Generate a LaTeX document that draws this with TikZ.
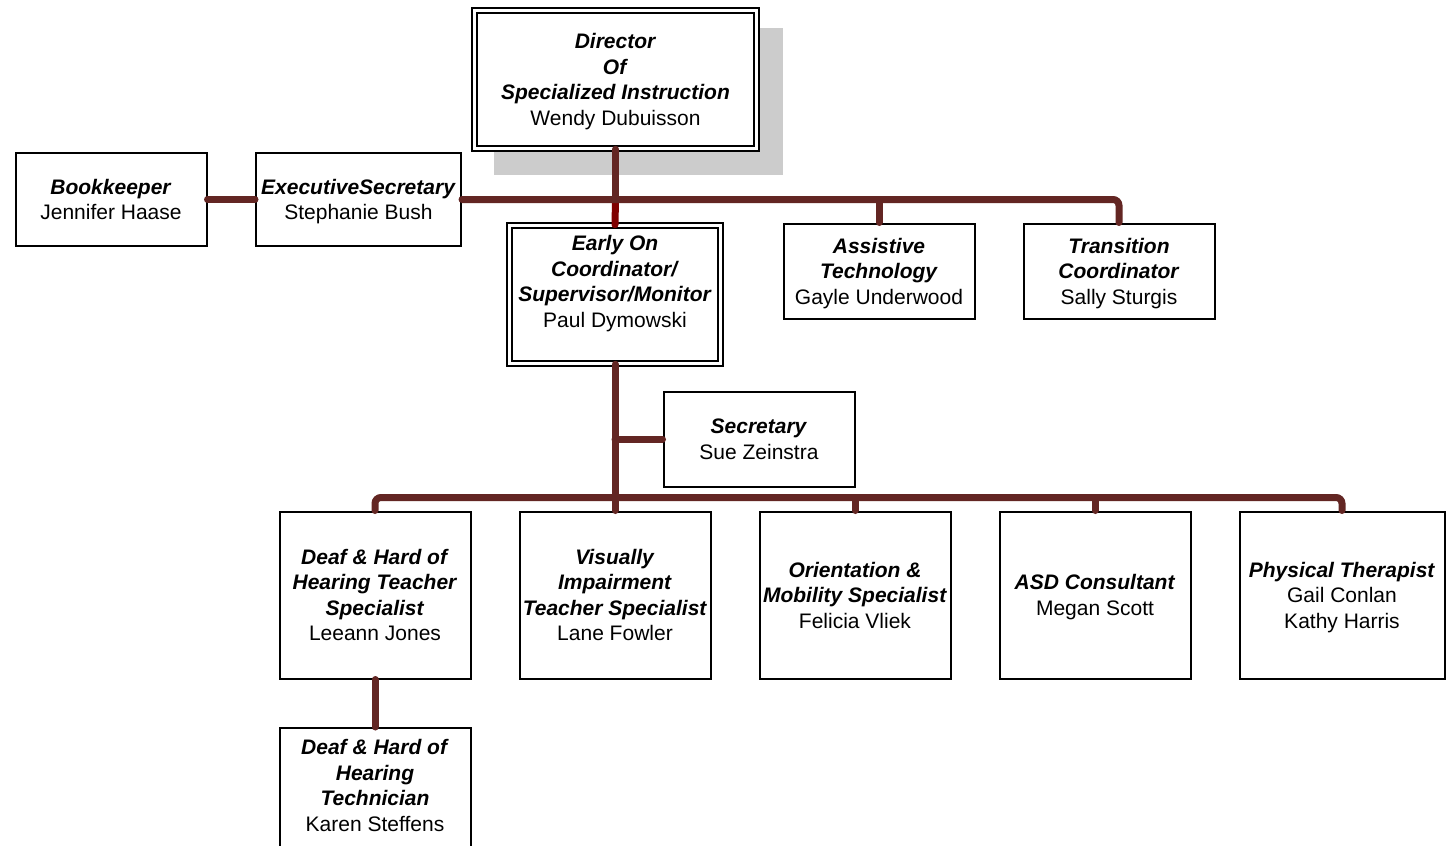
\documentclass[tikz,border=0pt]{standalone}
\usepackage{fontspec}
\setmainfont{Liberation Sans}
\usepackage{tikz}
\usetikzlibrary{positioning}
\definecolor{linkbrown}{RGB}{99,38,35}
\definecolor{linkred}{RGB}{128,0,0}
\tikzset{box/.style={draw, line width=1pt, fill=white, inner sep=0pt, align=center, font=\fontsize{10.5}{12.75}\selectfont, minimum width=95.5pt, minimum height=47.5pt, text depth=0pt}, tall/.style={box, minimum height=83.5pt}, dbl/.style={box, line width=0.75pt, double, double distance=1.75pt}, link/.style={draw=linkbrown, line width=3.5pt, line cap=round}}
\newcommand{\job}[1]{\textbf{\textit{#1}}}

\begin{document}
\begin{tikzpicture}[x=0.5pt, y=-0.5pt]
    \useasboundingbox (0, 0) rectangle (1452, 846);
    \fill[black!20] (494, 28) rectangle (783, 175);
    \node[dbl, minimum width=141pt, minimum height=69pt] (0) at (615.5, 79.5) {\job{Director}\\\job{Of}\\\job{Specialized Instruction}\\Wendy Dubuisson};
    \node[box, minimum height=46.5pt] (1) at (111, 199.5) {\job{Bookkeeper}\\Jennifer Haase};
    \node[box, minimum width=102.5pt, minimum height=46.5pt] (2) at (358.5, 199.5) {\job{ExecutiveSecretary}\\Stephanie Bush};
    \node[dbl, minimum width=105.5pt, minimum height=69pt, text depth=13pt] (3) at (615, 294.5) {\job{Early On}\\\job{Coordinator/}\\\job{Supervisor/Monitor}\\Paul Dymowski};
    \node[box] (4) at (879, 271) {\job{Assistive}\\\job{Technology}\\Gayle Underwood};
    \node[box] (5) at (1119, 271) {\job{Transition}\\\job{Coordinator}\\Sally Sturgis};
    \node[box] (6) at (759, 439) {\job{Secretary}\\Sue Zeinstra};
    \node[tall] (7) at (375, 595) {\job{Deaf \& Hard of}\\\job{Hearing Teacher}\\\job{Specialist}\\Leeann Jones};
    \node[tall] (8) at (615, 595) {\job{Visually}\\\job{Impairment}\\\job{Teacher Specialist}\\Lane Fowler};
    \node[tall] (9) at (855, 595) {\job{Orientation \&}\\\job{Mobility Specialist}\\Felicia Vliek};
    \node[tall] (10) at (1095, 595) {\job{ASD Consultant}\\Megan Scott};
    \node[tall, minimum width=102.5pt] (11) at (1342, 595) {\job{Physical Therapist}\\Gail Conlan\\Kathy Harris};
    \node[tall, text depth=26pt] (12) at (375, 811.5) {\job{Deaf \& Hard of}\\\job{Hearing}\\\job{Technician}\\Karen Steffens};
    \path[link]
    	(1.east) edge (2.west)
    	(0.south) edge (0.south |- 2.east)
    	(4.north) edge (4.north |- 2.east)
    	(3.south) edge (8.north)
    	(6.west) edge (6.west -| 3.south)
    	(9.north) edge ++(0, -13)
    	(10.north) edge ++(0, -13)
    	(7.south) edge (12.north)
    	;
    \draw[link, draw=linkred] (0.south |- 2.east) -- (3.north);
    \draw[link, rounded corners=3pt] (2.east) -| (5.north);
    \draw[link, rounded corners=3pt] (7.north) -- ++(0, -13) -| (11.north);
\end{tikzpicture}
\end{document}
